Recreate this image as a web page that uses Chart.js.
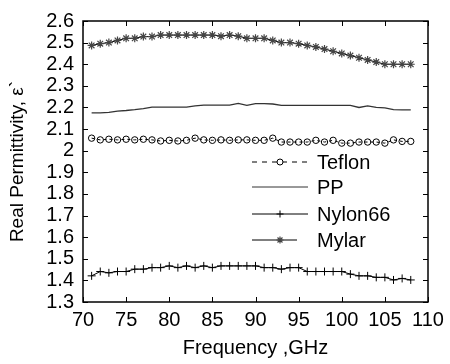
<!DOCTYPE html>
<html>
<head>
<meta charset="utf-8">
<script src="https://cdn.jsdelivr.net/npm/chart.js@4/dist/chart.umd.min.js"></script>
<style>
  html, body { margin: 0; padding: 0; background: #fff; }
  #wrap { width: 450px; height: 364px; }
</style>
</head>
<body>
<div id="wrap"><canvas id="permChart"></canvas></div>
<script>
// frequency points, GHz
const freqs = [71, 72, 73, 74, 75, 76, 77, 78, 79, 80, 81, 82, 83, 84, 85, 86, 87, 88, 89,
               90, 91, 92, 93, 94, 95, 96, 97, 98, 99, 100, 101, 102, 103, 104, 105, 106, 107, 108];

const teflon = [2.058, 2.05, 2.053, 2.05, 2.053, 2.05, 2.053, 2.05, 2.045, 2.048, 2.045, 2.048, 2.058,
                2.05, 2.048, 2.05, 2.048, 2.05, 2.05, 2.048, 2.048, 2.058, 2.04, 2.04, 2.04, 2.04,
                2.048, 2.04, 2.048, 2.035, 2.035, 2.04, 2.04, 2.04, 2.035, 2.05, 2.043, 2.043];

const pp = [2.175, 2.175, 2.177, 2.183, 2.186, 2.19, 2.195, 2.202, 2.202, 2.202, 2.202, 2.202, 2.207,
            2.211, 2.211, 2.211, 2.211, 2.219, 2.21, 2.218, 2.218, 2.216, 2.21, 2.21, 2.21, 2.21,
            2.21, 2.21, 2.21, 2.21, 2.21, 2.2, 2.207, 2.2, 2.198, 2.19, 2.189, 2.189];

const nylon66 = [1.421, 1.441, 1.435, 1.441, 1.441, 1.452, 1.452, 1.459, 1.459, 1.467, 1.459, 1.467, 1.459,
                 1.467, 1.459, 1.467, 1.467, 1.467, 1.467, 1.467, 1.459, 1.459, 1.452, 1.459, 1.459,
                 1.441, 1.441, 1.441, 1.441, 1.441, 1.429, 1.421, 1.421, 1.414, 1.414, 1.402, 1.409, 1.402];

const mylar = [2.487, 2.495, 2.50, 2.51, 2.52, 2.52, 2.528, 2.528, 2.535, 2.535, 2.535, 2.535, 2.535,
               2.535, 2.535, 2.53, 2.535, 2.53, 2.52, 2.52, 2.52, 2.51, 2.50, 2.50, 2.495, 2.487,
               2.48, 2.47, 2.46, 2.45, 2.44, 2.43, 2.42, 2.41, 2.40, 2.40, 2.40, 2.40];

const xTicks = [70, 75, 80, 85, 90, 95, 100, 105, 110];
const yTicks = [1.3, 1.4, 1.5, 1.6, 1.7, 1.8, 1.9, 2.0, 2.1, 2.2, 2.3, 2.4, 2.5, 2.6];

const legendItems = [
  { label: 'Teflon', style: 'circle', dash: [5, 5] },
  { label: 'PP', style: false, dash: [] },
  { label: 'Nylon66', style: 'cross', dash: [] },
  { label: 'Mylar', style: 'star', dash: [] }
];

function pts(ys) {
  return freqs.map((f, i) => ({ x: f, y: ys[i] }));
}

const FONT = 'Liberation Sans, Arial, sans-serif';

// box, inside ticks and legend, matlab style
const framePlugin = {
  id: 'frame',
  afterDraw(chart) {
    const ctx = chart.ctx;
    const a = chart.chartArea;
    const xs = chart.scales.x, ys = chart.scales.y;
    ctx.save();
    ctx.strokeStyle = '#000';
    ctx.lineWidth = 1.5;
    ctx.strokeRect(a.left, a.top, a.right - a.left, a.bottom - a.top);

    ctx.lineWidth = 1;
    ctx.beginPath();
    xTicks.forEach(v => {
      const px = Math.round(xs.getPixelForValue(v)) + 0.5;
      ctx.moveTo(px, a.bottom); ctx.lineTo(px, a.bottom - 5);
      ctx.moveTo(px, a.top); ctx.lineTo(px, a.top + 5);
    });
    yTicks.forEach(v => {
      const py = Math.round(ys.getPixelForValue(v)) + 0.5;
      ctx.moveTo(a.left, py); ctx.lineTo(a.left + 5, py);
      ctx.moveTo(a.right, py); ctx.lineTo(a.right - 5, py);
    });
    ctx.stroke();

    // legend
    const rows = [162, 187, 214, 240];
    ctx.font = '20px ' + FONT;
    ctx.textBaseline = 'middle';
    legendItems.forEach((it, i) => {
      const y = rows[i];
      const x0 = 252, x1 = it.style === 'star' ? 297 : 308;
      ctx.strokeStyle = it.label === 'PP' ? '#333' : '#000';
      ctx.lineWidth = 1;
      ctx.setLineDash(it.dash);
      ctx.beginPath();
      ctx.moveTo(x0, y); ctx.lineTo(x1, y);
      ctx.stroke();
      ctx.setLineDash([]);
      if (it.style) {
        ctx.fillStyle = '#fff';
        ctx.strokeStyle = it.style === 'star' ? '#444' : '#000';
        ctx.lineWidth = it.style === 'star' ? 1.2 : 1;
        Chart.helpers.drawPoint(ctx, { pointStyle: it.style, radius: it.style === 'circle' ? 3 : 3.5, rotation: 0, borderWidth: 1 }, 280, y);
      }
      ctx.fillStyle = '#000';
      ctx.fillText(it.label, 317, y + 1);
    });
    ctx.restore();
  }
};

const ctx = document.getElementById('permChart').getContext('2d');
const permChart = new Chart(ctx, {
  type: 'line',
  data: {
    datasets: [
      {
        label: 'Teflon',
        data: pts(teflon),
        borderColor: '#000',
        borderWidth: 1,
        borderDash: [3, 3],
        pointStyle: 'circle',
        pointRadius: 3.2,
        pointBorderWidth: 1,
        pointBorderColor: '#000',
        pointBackgroundColor: 'rgba(255,255,255,0)'
      },
      {
        label: 'PP',
        data: pts(pp),
        borderColor: '#333',
        borderWidth: 1.3,
        pointRadius: 0
      },
      {
        label: 'Nylon66',
        data: pts(nylon66),
        borderColor: '#000',
        borderWidth: 1,
        pointStyle: 'cross',
        pointRadius: 4,
        pointBorderWidth: 1,
        pointBorderColor: '#000'
      },
      {
        label: 'Mylar',
        data: pts(mylar),
        borderColor: '#000',
        borderWidth: 1,
        pointStyle: 'star',
        pointRadius: 4,
        pointBorderWidth: 1.2,
        pointBorderColor: '#444'
      }
    ]
  },
  options: {
    responsive: true,
    maintainAspectRatio: false,
    animation: false,
    layout: { padding: { top: 17, right: 22, left: 0, bottom: 0 } },
    plugins: {
      legend: { display: false },
      tooltip: { enabled: false }
    },
    elements: { line: { tension: 0 } },
    scales: {
      x: {
        type: 'linear',
        min: 70,
        max: 110,
        afterBuildTicks: s => { s.ticks = xTicks.map(v => ({ value: v })); },
        afterFit: s => { s.height = 62; },
        grid: { display: false, drawTicks: false },
        border: { display: false },
        ticks: { color: '#000', padding: 6, autoSkip: false, maxRotation: 0, font: { family: FONT, size: 20 } },
        title: {
          display: true,
          text: 'Frequency ,GHz',
          color: '#000',
          font: { family: FONT, size: 20 },
          padding: { top: 0, bottom: 4 }
        }
      },
      y: {
        min: 1.3,
        max: 2.6,
        afterBuildTicks: s => { s.ticks = yTicks.map(v => ({ value: v })); },
        afterFit: s => { s.width = 83; },
        grid: { display: false, drawTicks: false },
        border: { display: false },
        ticks: {
          color: '#000',
          padding: 9,
          autoSkip: false,
          font: { family: FONT, size: 20 },
          callback: v => String(+v.toFixed(1))
        },
        title: {
          display: true,
          text: 'Real Permittivity, ε`',
          color: '#000',
          font: { family: FONT, size: 19 },
          padding: { top: 6, bottom: 0 }
        }
      }
    }
  },
  plugins: [framePlugin]
});
</script>
</body>
</html>
